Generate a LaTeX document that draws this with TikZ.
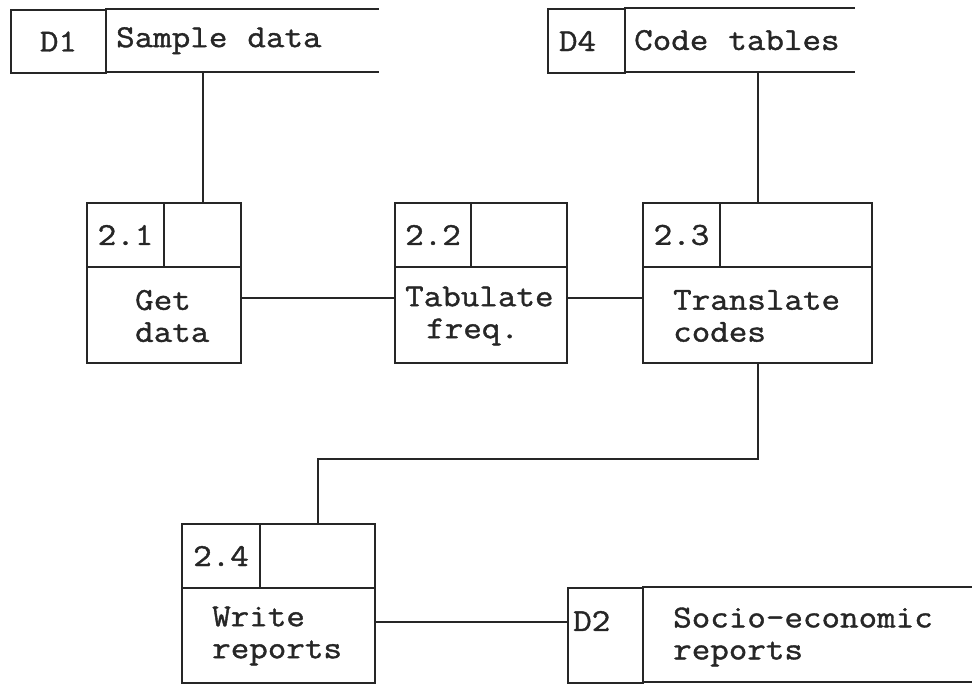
\documentclass[tikz,border=0pt]{standalone}
\usepackage{fontspec}
\newfontfamily\typewriter[FakeStretch=1.125, FakeBold=1.2]{Latin Modern Mono}
\definecolor{inkc}{HTML}{262626}
\tikzset{
  ink/.style={draw=inkc, line width=2pt},
  txt/.style={font=\typewriter\fontsize{32}{32}\selectfont, text=inkc,
    execute at begin node={\spaceskip=20pt\relax}},
  cell/.style={ink, txt, anchor=north west, inner sep=0pt, minimum height=64pt},
  body/.style={ink, anchor=north west, inner sep=0pt},
  bodytext/.style={txt, anchor=west, align=left, inner sep=0pt},
  storeid/.style={ink, txt, anchor=north west, inner ysep=0pt},
  storelabel/.style={txt, anchor=north west, inner ysep=0pt, align=left},
  flow/.style={ink},
}
\begin{document}
\begin{tikzpicture}[x=1pt, y=-1pt]
\useasboundingbox (0,0) rectangle (972,683);

% ---- data store D1
\node[storeid, minimum width=95pt, minimum height=63pt, inner xsep=0pt] (d1id) at (10,9) {D1};
\node[storelabel, minimum height=63pt, inner xsep=11pt, text width=252pt] (d1l) at (105,9) {Sample data};
\draw[ink] (d1l.north west) -- (d1l.north east);
\draw[ink] (d1l.south west) -- (d1l.south east);

% ---- data store D4
\node[storeid, minimum width=77pt, minimum height=64pt, inner xsep=11pt, text width=55pt, align=left] (d4id) at (547,8) {D4};
\node[storelabel, minimum height=64pt, inner xsep=10pt, text width=211pt] (d4l) at (624,8) {Code tables};
\draw[ink] (d4l.north west) -- (d4l.north east);
\draw[ink] (d4l.south west) -- (d4l.south east);

% ---- process 2.1
\node[cell, minimum width=77pt] (p1id) at (86,202) {2.1};
\node[cell, minimum width=77pt] (p1hd) at (163,202) {};
\node[body, minimum width=154pt, minimum height=96pt] (p1) at (86,266) {};
\node[bodytext] (p1t) at (135,316) {Get\\data};

% ---- process 2.2
\node[cell, minimum width=76pt] (p2id) at (394,202) {2.2};
\node[cell, minimum width=96pt] (p2hd) at (470,202) {};
\node[body, minimum width=172pt, minimum height=96pt] (p2) at (394,266) {};
\node[bodytext] (p2t) at (405,316) {Tabulate\\\hspace*{21pt}freq.};

% ---- process 2.3
\node[cell, minimum width=77pt] (p3id) at (642,202) {2.3};
\node[cell, minimum width=152pt] (p3hd) at (719,202) {};
\node[body, minimum width=229pt, minimum height=96pt] (p3) at (642,266) {};
\node[bodytext] (p3t) at (673,316) {Translate\\codes};

% ---- process 2.4
\node[cell, minimum width=78pt] (p4id) at (181,523) {2.4};
\node[cell, minimum width=115pt] (p4hd) at (259,523) {};
\node[body, minimum width=193pt, minimum height=95pt] (p4) at (181,587) {};
\node[bodytext] (p4t) at (212,636) {Write\\reports};

% ---- data store D2
\node[body, minimum width=75pt, minimum height=95pt] (d2id) at (567,587) {};
\node[bodytext] (d2n) at (573,621) {D2};
\node[anchor=north west, inner sep=0pt, minimum width=330pt, minimum height=95pt] (d2l) at (642,587) {};
\node[bodytext] (d2t) at (673,637) {Socio-economic\\reports};
\draw[ink] (d2l.north west) -- (d2l.north east);
\draw[ink] (d2l.south west) -- (d2l.south east);

% ---- data flows
\draw[flow] (p1hd.north) -- (p1hd.north |- d1l.south);
\draw[flow] ([yshift=17pt]p1.east) -- ([yshift=17pt]p2.west);
\draw[flow] ([yshift=17pt]p2.east) -- ([yshift=17pt]p3.west);
\draw[flow] (p3.center |- p3id.north) -- (p3.center |- d4l.south);
\draw[flow] (p3.south) -- ++(0,95) -| (p4hd.north);
\draw[flow] ([yshift=14pt]p4.east) -- ([yshift=14pt]d2id.west);
\end{tikzpicture}
\end{document}
